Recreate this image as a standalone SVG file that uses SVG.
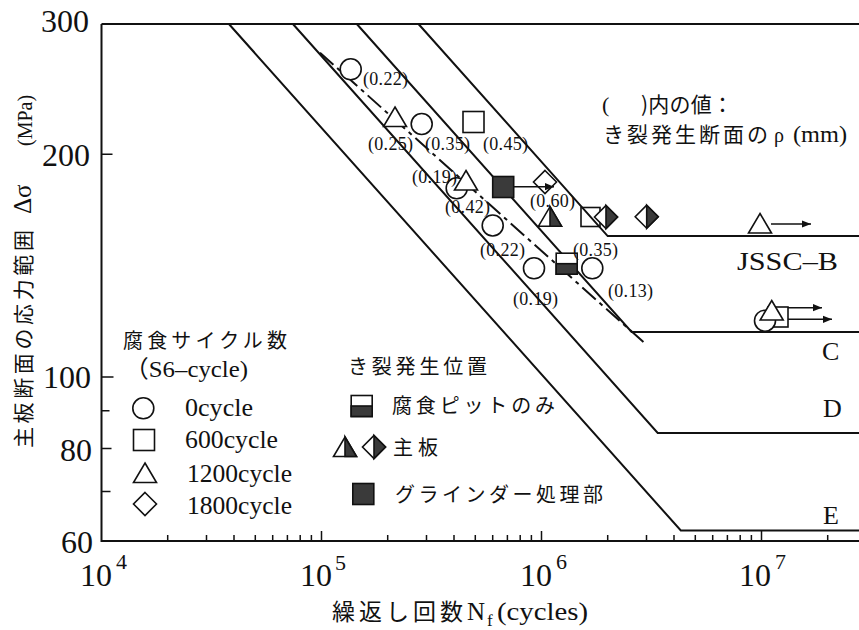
<svg xmlns="http://www.w3.org/2000/svg" xmlns:xlink="http://www.w3.org/1999/xlink" width="859" height="630" viewBox="0 0 859 630">
<style>
.ax{stroke:#111;stroke-width:2;fill:none}
.tk{stroke:#111;stroke-width:1.5;fill:none}
.ln{stroke:#111;stroke-width:2;fill:none}
.mk{stroke:#111;stroke-width:1.6;fill:#fff}
.dk{stroke:#111;stroke-width:1.6;fill:#3a3a3a}
.no{stroke:#111;stroke-width:1.6;fill:none}
.ar{stroke:#111;stroke-width:1.5;fill:none}
.num{font-family:"Liberation Serif","Noto Sans CJK JP",serif;fill:#111}
.jp{font-family:"Noto Sans CJK JP","Liberation Sans",sans-serif;fill:#111}
.lab{font-family:"Liberation Serif",serif;font-size:18px;fill:#111}
</style>
<defs>
<marker id="ah" viewBox="0 0 10 10" refX="10" refY="5" markerWidth="9" markerHeight="9" markerUnits="userSpaceOnUse" orient="auto"><path d="M0,1 L10,5 L0,9 Z" fill="#111"/></marker>
<circle id="mc" r="10.5" class="mk"/>
<rect id="ms" x="-10.5" y="-10.5" width="21" height="21" class="mk"/>
<path id="mt" d="M0,-10 L11.5,9.5 L-11.5,9.5 Z" class="mk"/>
<path id="md" d="M0,-11.5 L11.5,0 L0,11.5 L-11.5,0 Z" class="mk"/>
<g id="msf"><rect x="-10.5" y="-10.5" width="21" height="21" class="dk"/></g>
<g id="msh"><rect x="-10.5" y="-10.5" width="21" height="21" class="mk"/><rect x="-10.5" y="0" width="21" height="10.5" class="dk"/></g>
<g id="mth"><path d="M0,-10 L11.5,9.5 L-11.5,9.5 Z" class="mk"/><path d="M0,-10 L11.5,9.5 L0,9.5 Z" class="dk"/></g>
<g id="mdh"><path d="M0,-11.5 L11.5,0 L0,11.5 L-11.5,0 Z" class="mk"/><path d="M0,-11.5 L11.5,0 L0,11.5 Z" class="dk"/></g>
</defs>
<rect width="859" height="630" fill="#fff"/>

<g id="axes">
<path class="ax" d="M101.5,24 H859 M101.5,24 V541 H859"/>
<path class="tk" d="M101.5,154.3 h11 M101.5,376.9 h12 M101.5,410.8 h8 M101.5,448.6 h10 M101.5,491.5 h9"/>
<path class="tk" d="M167.7,541 v-6 M206.5,541 v-6 M234,541 v-6 M255.3,541 v-6 M272.7,541 v-6 M287.4,541 v-6 M300.2,541 v-6 M311.4,541 v-6 M321.5,541 v-10 M387.7,541 v-6 M426.5,541 v-6 M454,541 v-6 M475.3,541 v-6 M492.7,541 v-6 M507.4,541 v-6 M520.2,541 v-6 M531.4,541 v-6 M541.5,541 v-10 M607.7,541 v-6 M646.5,541 v-6 M674,541 v-6 M695.3,541 v-6 M712.7,541 v-6 M727.4,541 v-6 M740.2,541 v-6 M751.4,541 v-6 M761.5,541 v-11 M827.7,541 v-6"/>
<g class="num" font-size="32" text-anchor="end">
<text x="89" y="32">300</text>
<text x="90" y="166">200</text>
<text x="91" y="388">100</text>
<text x="92" y="461">80</text>
<text x="93" y="553">60</text>
</g>
<g class="num" font-size="32">
<text x="80" y="586">10</text><text x="116" y="569" font-size="22">4</text>
<text x="300" y="586">10</text><text x="335" y="570" font-size="22">5</text>
<text x="520" y="586">10</text><text x="556" y="569" font-size="22">6</text>
<text x="739" y="586">10</text><text x="775" y="569" font-size="22">7</text>
</g>
<g id="xlabel">
<text class="jp" x="332" y="620" font-size="23" textLength="131" lengthAdjust="spacing">繰返し回数</text>
<text class="num" x="467" y="620" font-size="25">N</text>
<text class="num" x="487" y="626" font-size="17">f</text>
<text class="num" x="497" y="620" font-size="26" textLength="91" lengthAdjust="spacingAndGlyphs">(cycles)</text>
</g>
<g id="ylabel">
<text class="jp" transform="translate(31,448) rotate(-90)" font-size="21" textLength="218" lengthAdjust="spacing">主板断面の応力範囲</text>
<text class="num" transform="translate(31,214) rotate(-90)" font-size="25">Δσ</text>
<text class="num" transform="translate(32,146) rotate(-90)" font-size="20">(MPa)</text>
</g>
</g>

<g id="connectors">
<path id="lineB" class="ln" d="M418.5,24 L607.7,236.1 H859"/>
<path id="lineC" class="ln" d="M356.8,24 L631.6,332 H859"/>
<path id="lineD" class="ln" d="M292.9,24 L657.7,432.9 H859"/>
<path id="lineE" class="ln" d="M228.9,24 L680.8,530.5 H859"/>
<path id="regression" class="ln" stroke-width="1.8" stroke-dasharray="18 5 4 5" d="M320,52.7 L646.7,345"/>
</g>

<g id="curve-labels" class="num" font-size="26">
<text x="737" y="270" textLength="101" lengthAdjust="spacingAndGlyphs">JSSC–B</text>
<text x="822" y="360">C</text>
<text x="823" y="417">D</text>
<text x="823" y="524">E</text>
</g>

<g id="data">
<use href="#mc" x="350.7" y="69.3"/>
<use href="#mt" x="395" y="117"/>
<use href="#mc" x="421.7" y="124"/>
<use href="#ms" x="473.5" y="122"/>
<use href="#mc" x="456.7" y="188.3"/>
<use href="#mt" x="466" y="180.5"/>
<use href="#msf" x="503.2" y="187"/>
<use href="#md" x="545" y="182"/>
<path class="ar" marker-end="url(#ah)" d="M514,186.7 H554"/>
<use href="#mc" x="492.7" y="225.5"/>
<use href="#mth" x="550" y="216.7"/>
<rect x="581" y="207.5" width="19" height="19" class="no"/>
<use href="#mdh" x="606" y="217"/>
<use href="#mdh" x="646.7" y="216.7"/>
<use href="#mc" x="534" y="268.3"/>
<use href="#msh" x="566.7" y="263.7"/>
<use href="#mc" x="592.3" y="268.3"/>
<use href="#mt" x="760" y="223.5"/>
<path class="ar" marker-end="url(#ah)" d="M771,224 H811"/>
<rect x="768" y="307" width="20" height="20" class="mk"/>
<use href="#mc" x="765" y="320.7"/>
<use href="#mt" x="771.7" y="310.5"/>
<path class="ar" marker-end="url(#ah)" d="M788,307.7 H822"/>
<path class="ar" marker-end="url(#ah)" d="M788,319.3 H832"/>
</g>

<g id="data-labels" class="lab">
<text x="363" y="85" textLength="45">(0.22)</text>
<text x="368" y="150" textLength="45">(0.25)</text>
<text x="425" y="150" textLength="45">(0.35)</text>
<text x="483" y="150" textLength="45">(0.45)</text>
<text x="412" y="183" textLength="45">(0.19)</text>
<text x="445" y="213" textLength="45">(0.42)</text>
<text x="530" y="207" textLength="45">(0.60)</text>
<text x="480" y="256" textLength="45">(0.22)</text>
<text x="573" y="256" textLength="45">(0.35)</text>
<text x="513" y="305" textLength="45">(0.19)</text>
<text x="608" y="297" textLength="45">(0.13)</text>
</g>

<g id="note">
<text class="num" x="602" y="112" font-size="22">(</text>
<text class="jp" x="641" y="112" font-size="21" textLength="92" lengthAdjust="spacing">)内の値：</text>
<text class="jp" x="603" y="142" font-size="21" textLength="165" lengthAdjust="spacing">き裂発生断面の</text>
<text class="num" x="774" y="142" font-size="20">ρ</text>
<text class="num" x="793" y="142" font-size="23" textLength="54" lengthAdjust="spacingAndGlyphs">(mm)</text>
</g>

<g id="legend-cycles">
<text class="jp" x="123" y="348" font-size="20" textLength="164" lengthAdjust="spacing">腐食サイクル数</text>
<text class="num" x="124" y="377" font-size="24" textLength="124" lengthAdjust="spacingAndGlyphs">（S6–cycle)</text>
<use href="#mc" x="143.3" y="408.3"/>
<text class="num" x="185" y="416" font-size="25" textLength="68" lengthAdjust="spacingAndGlyphs">0cycle</text>
<use href="#ms" x="144" y="440"/>
<text class="num" x="185" y="448" font-size="25" textLength="93" lengthAdjust="spacingAndGlyphs">600cycle</text>
<use href="#mt" x="145" y="473"/>
<text class="num" x="187" y="482" font-size="25" textLength="105" lengthAdjust="spacingAndGlyphs">1200cycle</text>
<use href="#md" x="145" y="504"/>
<text class="num" x="187" y="514" font-size="25" textLength="105" lengthAdjust="spacingAndGlyphs">1800cycle</text>
</g>

<g id="legend-origin">
<text class="jp" x="348" y="374" font-size="20" textLength="139" lengthAdjust="spacing">き裂発生位置</text>
<use href="#msh" x="361.7" y="406"/>
<text class="jp" x="392" y="413" font-size="20" textLength="163" lengthAdjust="spacing">腐食ピットのみ</text>
<use href="#mth" x="345" y="447"/>
<use href="#mdh" x="374" y="447"/>
<text class="jp" x="393" y="455" font-size="20" textLength="45" lengthAdjust="spacing">主板</text>
<use href="#msf" x="363.3" y="494"/>
<text class="jp" x="395" y="502" font-size="20" textLength="208" lengthAdjust="spacing">グラインダー処理部</text>
</g>
</svg>
